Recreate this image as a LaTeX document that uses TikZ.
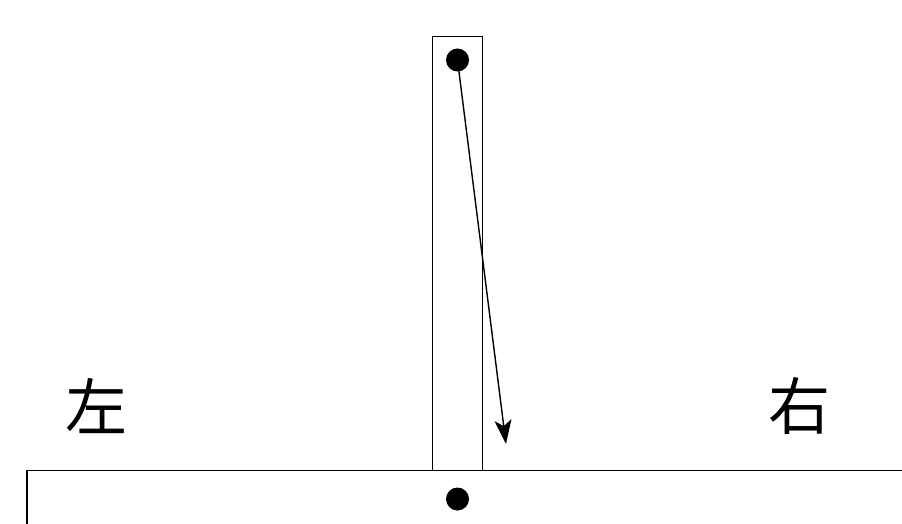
\documentclass[tikz,border=0pt]{standalone}
\usepackage{fontspec}
\newfontfamily\cjk{Noto Sans CJK SC}
\usetikzlibrary{arrows.meta}
\begin{document}
\begin{tikzpicture}[x=1pt,y=-1pt,
  line/.style={draw=black,line width=1.3pt},
  dot/.style={circle,fill=black,inner sep=0pt,minimum size=23pt},
  lbl/.style={font=\cjk\fontsize{62}{62}\selectfont,inner sep=0pt}]
\useasboundingbox (0,0) rectangle (902,524);
\node[draw=black,line width=1.3pt,minimum width=50pt,minimum height=434pt,inner sep=0pt,anchor=north west] (bar) at (432,36) {};
\node[dot] (top) at (457.5,60) {};
\node[dot] (bot) at (457.5,499) {};
\coordinate (tip) at (506,444);
\coordinate (bl) at (27,524);
\coordinate (bc) at (27,470.5);
\coordinate (br) at (902,470.5);
\draw[line] (bl) -- (bc) -- (br);
\draw[line width=1.4pt,-{Stealth[length=24pt,width=17pt,inset=6pt]}] (top.center) -- (tip);
\node[lbl] (left) at (96,406) {左};
\node[lbl] (right) at (799,406) {右};
\end{tikzpicture}
\end{document}
